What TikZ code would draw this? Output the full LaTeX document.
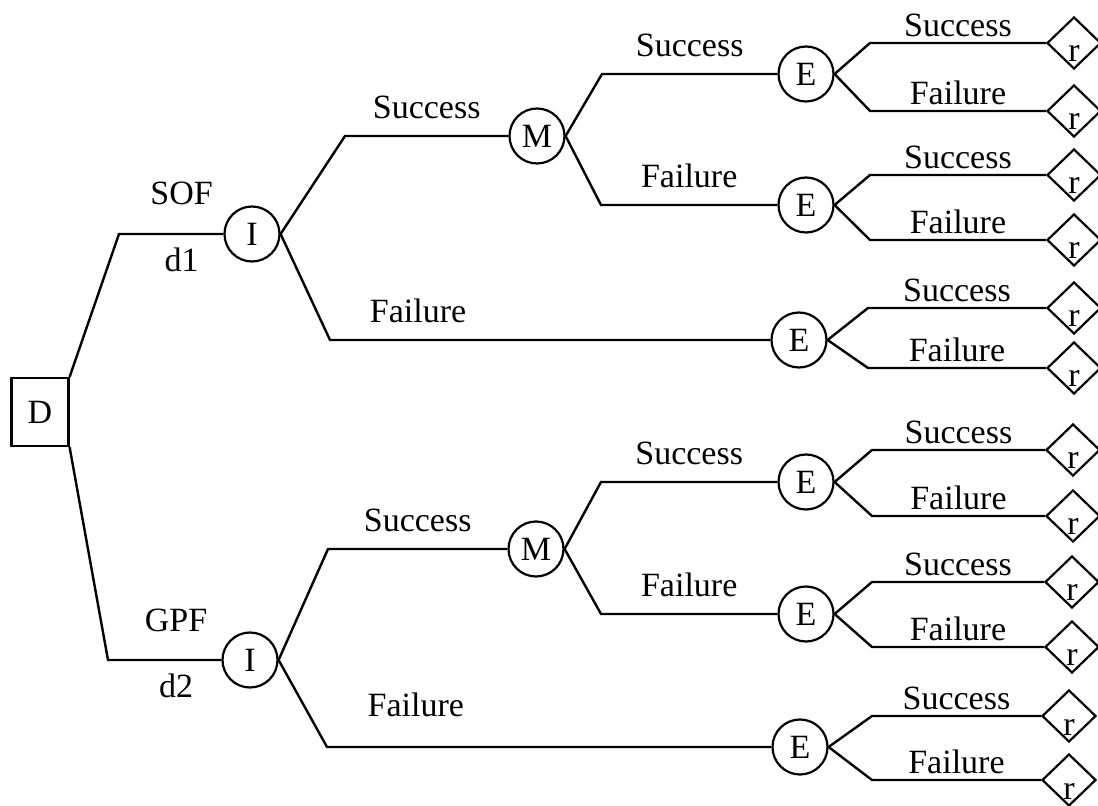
\documentclass[tikz,border=0pt]{standalone}
\usepackage{fontspec}
\setmainfont{Liberation Serif}
\usetikzlibrary{shapes.geometric}

\tikzset{
  chance/.style={circle, draw, line width=1.1pt, minimum size=27.5pt, inner sep=0pt},
  decision/.style={rectangle, draw, line width=1.1pt, minimum width=28.5pt, minimum height=34pt, inner sep=0pt},
  payoff/.style={diamond, draw, line width=1.1pt, minimum width=27pt, minimum height=26pt, inner sep=0pt, text height=19pt, text depth=0pt},
  branch/.style={line width=1.2pt},
  lbl/.style={above=8pt, inner sep=0pt},
  lblr/.style={above=2.5pt, inner sep=0pt},
}

\begin{document}
\begin{tikzpicture}[x=0.5pt,y=-0.5pt,font=\fontsize{17}{20}\selectfont]
\useasboundingbox (0,0) rectangle (1098,806);

% Decision node
\node[decision] (D) at (40,412) {D};

% Chance nodes
\node[chance] (I1) at (252,234) {I};
\node[chance] (I2) at (250,660) {I};
\node[chance] (M1) at (537,136) {M};
\node[chance] (M2) at (536,549) {M};
\node[chance] (E1) at (806,74) {E};
\node[chance] (E2) at (806,205) {E};
\node[chance] (E3) at (799,340) {E};
\node[chance] (E4) at (806,482) {E};
\node[chance] (E5) at (806,614) {E};
\node[chance] (E6) at (800,747) {E};

% Payoff nodes
\node[payoff] (r1) at (1074,43) {r};
\node[payoff] (r2) at (1074,111) {r};
\node[payoff] (r3) at (1074,175) {r};
\node[payoff] (r4) at (1074,240) {r};
\node[payoff] (r5) at (1074,308) {r};
\node[payoff] (r6) at (1074,368) {r};
\node[payoff] (r7) at (1073,450) {r};
\node[payoff] (r8) at (1073,516) {r};
\node[payoff] (r9) at (1072,582) {r};
\node[payoff] (r10) at (1072,647) {r};
\node[payoff] (r11) at (1069,716) {r};
\node[payoff] (r12) at (1069,780) {r};

% Corners
\coordinate (cD1) at (119,234);
\coordinate (cD2) at (108,660);
\coordinate (cI1s) at (345,136);
\coordinate (cI1f) at (330,340);
\coordinate (cI2s) at (328,549);
\coordinate (cI2f) at (327,747);
\coordinate (cM1s) at (602,74);
\coordinate (cM1f) at (601,205);
\coordinate (cM2s) at (601,482);
\coordinate (cM2f) at (601,614);

% Decision branches
\draw[branch] (D.north east) -- (cD1) -- node[pos=0.6, above=14pt, inner sep=0pt] {SOF} node[pos=0.6, below=6.5pt, inner sep=0pt] {d1} (I1);
\draw[branch] (D.south east) -- (cD2) -- node[pos=0.6, above=13.5pt, inner sep=0pt] {GPF} node[pos=0.6, below=6.5pt, inner sep=0pt] {d2} (I2);

% Implementation branches
\draw[branch] (I1.east) -- (cI1s) -- node[lbl] {Success} (M1);
\draw[branch] (I1.east) -- (cI1f) -- node[lbl, pos=0.2] {Failure} (E3);
\draw[branch] (I2.east) -- (cI2s) -- node[lbl] {Success} (M2);
\draw[branch] (I2.east) -- (cI2f) -- node[lbl, pos=0.2, above=6.5pt] {Failure} (E6);

% M branches
\draw[branch] (M1.east) -- (cM1s) -- node[lbl] {Success} (E1);
\draw[branch] (M1.east) -- (cM1f) -- node[lbl] {Failure} (E2);
\draw[branch] (M2.east) -- (cM2s) -- node[lbl] {Success} (E4);
\draw[branch] (M2.east) -- (cM2f) -- node[lbl] {Failure} (E5);

% E branches
\draw[branch] (E1.east) -- (870,43) -- node[lblr] {Success} (r1);
\draw[branch] (E1.east) -- (870,111) -- node[lblr] {Failure} (r2);
\draw[branch] (E2.east) -- (870,175) -- node[lblr] {Success} (r3);
\draw[branch] (E2.east) -- (870,240) -- node[lblr] {Failure} (r4);
\draw[branch] (E3.east) -- (868,308) -- node[lblr] {Success} (r5);
\draw[branch] (E3.east) -- (868,368) -- node[lblr] {Failure} (r6);
\draw[branch] (E4.east) -- (872,450) -- node[lblr] {Success} (r7);
\draw[branch] (E4.east) -- (872,516) -- node[lblr] {Failure} (r8);
\draw[branch] (E5.east) -- (872,582) -- node[lblr] {Success} (r9);
\draw[branch] (E5.east) -- (872,647) -- node[lblr] {Failure} (r10);
\draw[branch] (E6.east) -- (872,716) -- node[lblr] {Success} (r11);
\draw[branch] (E6.east) -- (872,780) -- node[lblr] {Failure} (r12);

\end{tikzpicture}
\end{document}
